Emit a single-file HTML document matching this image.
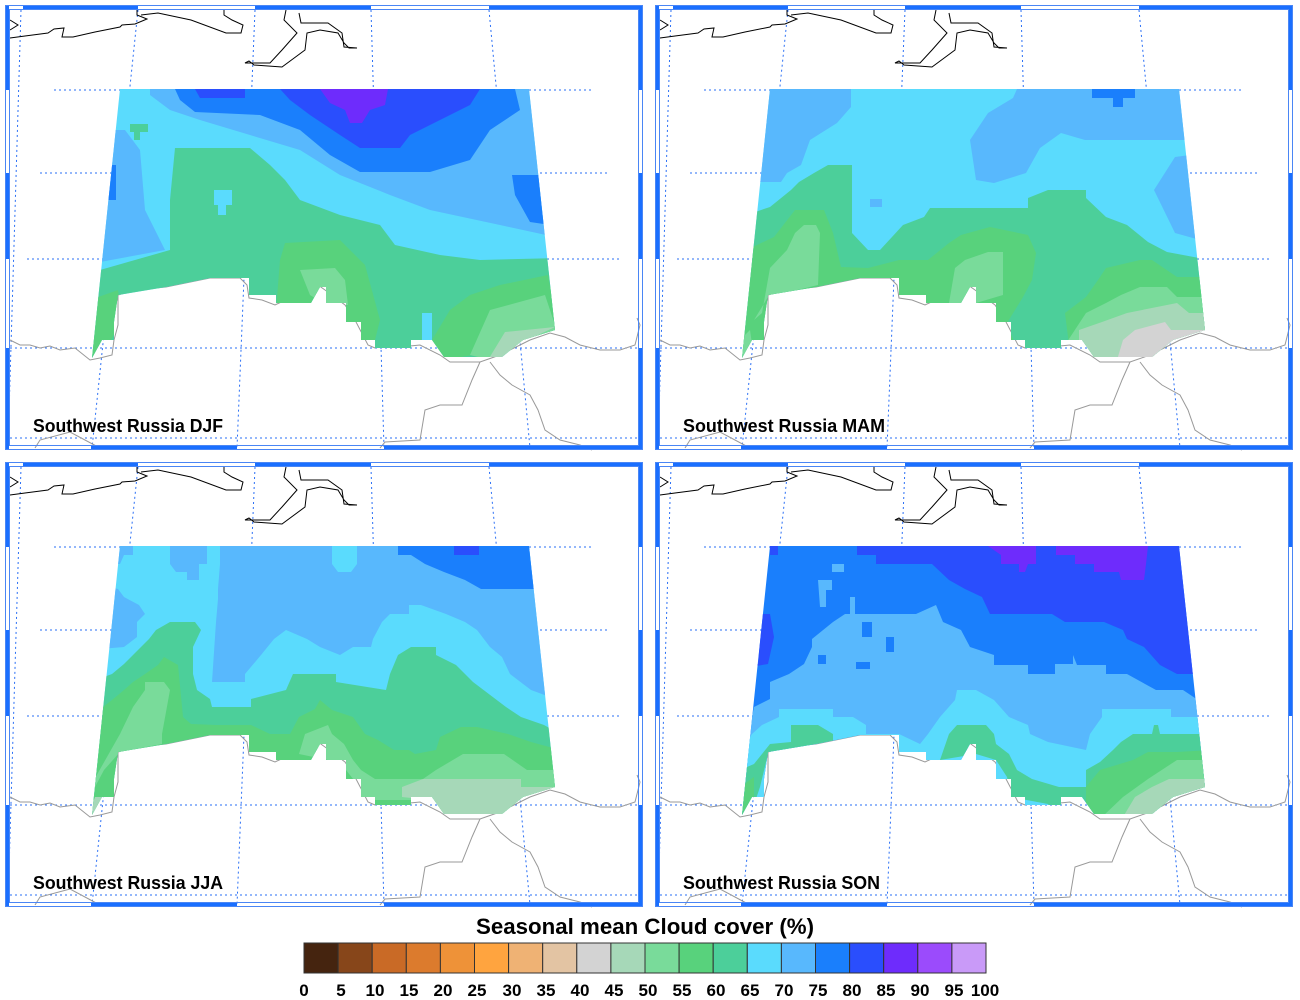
<!DOCTYPE html>
<html><head><meta charset="utf-8"><style>
html,body{margin:0;padding:0;background:#fff;width:1300px;height:1000px;overflow:hidden}
svg{display:block}
text{font-family:"Liberation Sans",Arial,sans-serif;font-weight:bold;fill:#000}
</style></head><body>
<svg width="1300" height="1000" viewBox="0 0 1300 1000" xmlns="http://www.w3.org/2000/svg">
<defs>
<clipPath id="dc" clipPathUnits="userSpaceOnUse">
<polygon points="120,89 529,89 555,330 523,340 502,357 444,357 432,340 411,340 411,348 375,348 375,340 361,340 361,322 346,322 346,303 326,303 326,287 320,287 311,303 276,303 276,295 249,295 249,278 210,278 166,287 118,295 114,322 114,340 102,340 92,358"/>
</clipPath>
<g id="base">
<rect x="5" y="5" width="638" height="445" fill="#fff"/>
<g stroke="#2a6ff5" stroke-width="1" stroke-dasharray="2,3" fill="none">
<line x1="54" y1="90" x2="593" y2="90"/>
<line x1="40" y1="173" x2="608" y2="173"/>
<line x1="27" y1="259" x2="620" y2="259"/>
<line x1="10" y1="348" x2="640" y2="348"/>
<line x1="10" y1="438" x2="640" y2="438"/>
<line x1="21" y1="10" x2="8" y2="447"/>
<line x1="138" y1="10" x2="92" y2="448"/>
<line x1="255" y1="10" x2="237" y2="448"/>
<line x1="371" y1="10" x2="384" y2="448"/>
<line x1="489" y1="10" x2="530" y2="448"/>
</g>
<g fill="none" stroke="#000" stroke-width="1">
<polyline points="10,38 25,36 48,33 54,29 64,28 62,37 73,37 95,32 120,27 122,25 135,24 147,19 137,15 137,10"/>
<polyline points="141,15 158,13 191,20 226,33 241,33 243,25 232,20 224,15 224,10"/>
<polyline points="286,10 284,20 297,33 282,50 270,63 253,63 245,63 249,61 254,65 282,67 305,50 307,33 320,30 338,33 344,43 349,48 357,48 344,47 342,33 328,23 301,23 299,13"/>
<polyline points="10,20 18,25 10,30"/>
</g>
<g fill="none" stroke="#999" stroke-width="1">
<polyline points="10,340 20,345 30,345 40,348 50,346 60,350 75,348 90,360 100,358 112,355 114,340 118,325 118,295 135,290 166,287 210,278 240,278 247,285 249,298 262,300 275,305 290,298 310,292 318,285 325,290 345,305 355,320 368,345 375,348 380,340 400,347 420,345 440,355 450,362 480,362 500,355 520,345 530,340 550,333 565,337 580,345 600,350 620,350 635,345 640,325 637,318"/>
<polyline points="480,362 472,380 462,405 440,405 425,410 420,440 385,442 380,448"/>
<polyline points="490,362 500,375 512,385 530,395 538,410 545,430 560,440 580,445 592,450"/>
<polyline points="35,448 40,440 70,432 100,448"/>
</g>
<g fill="#1a6fff">
<rect x="23" y="5" width="115" height="4"/><rect x="255" y="5" width="116" height="4"/><rect x="489" y="5" width="152" height="4"/>
<rect x="91" y="446" width="146" height="4"/><rect x="384" y="446" width="257" height="4"/>
<rect x="5" y="5" width="4" height="85"/><rect x="5" y="173" width="4" height="86"/><rect x="5" y="348" width="4" height="102"/>
<rect x="639" y="5" width="4" height="85"/><rect x="639" y="173" width="4" height="86"/><rect x="639" y="348" width="4" height="102"/>
</g>
<rect x="5.5" y="5.5" width="637" height="444" fill="none" stroke="#4a86f5" stroke-width="1"/>
<rect x="9.5" y="9.5" width="629" height="436" fill="none" stroke="#4a86f5" stroke-width="1"/>
</g>
</defs>

<!-- DJF -->
<g>
<use href="#base"/>
<g clip-path="url(#dc)">
<rect x="80" y="80" width="490" height="290" fill="#5adbfd"/>
<polygon fill="#58b8fd" points="150,89 529,89 546,235 500,225 430,210 390,195 340,175 300,150 250,135 200,120 170,110 150,95"/>
<polygon fill="#58b8fd" points="100,130 125,130 140,150 145,210 160,240 165,250 100,262"/>
<polygon fill="#1a7ffc" points="175,89 515,89 520,110 490,130 470,160 430,172 360,172 330,155 300,130 260,115 195,112 180,100"/>
<polygon fill="#1a7ffc" points="512,175 545,175 550,225 530,222 515,195"/>
<polygon fill="#1a7ffc" points="100,165 116,165 116,200 100,200"/>
<polygon fill="#2a4efd" points="280,89 480,89 470,105 440,120 410,135 400,148 360,148 340,135 310,115 290,100"/>
<polygon fill="#2a4efd" points="195,89 245,89 245,98 200,98"/>
<polygon fill="#6e2cfc" points="320,89 388,89 385,105 370,110 362,123 350,123 345,110 330,103"/>
<polygon fill="#4ccf9a" points="175,148 250,148 270,165 285,180 300,200 340,215 380,225 395,245 440,255 480,260 560,258 560,360 90,360 100,270 135,260 170,250 170,200"/>
<polygon fill="#4ccf9a" points="130,124 148,124 148,132 140,132 140,140 134,140 134,132 130,132"/>
<polygon fill="#5adbfd" points="214,190 232,190 232,205 226,205 226,215 218,215 218,205 214,205"/>
<polygon fill="#58d27c" points="285,243 340,240 365,265 380,320 375,340 361,345 276,310 280,260"/>
<polygon fill="#58d27c" points="470,295 500,285 548,275 560,340 444,360 432,340 450,310"/>
<polygon fill="#58d27c" points="90,300 118,290 122,320 100,360 90,360"/>
<polygon fill="#79db9a" points="300,270 335,268 345,280 348,305 326,305 310,295"/>
<polygon fill="#79db9a" points="490,310 545,295 560,340 520,345 490,360 470,355"/>
<polygon fill="#a6d8b8" points="505,332 555,327 523,342 500,360 488,360"/>
<polygon fill="#5adbfd" points="422,313 432,313 432,342 422,342"/>
</g>
<text x="33" y="432" font-size="18" textLength="190" lengthAdjust="spacingAndGlyphs">Southwest Russia DJF</text>
</g>

<!-- MAM -->
<g transform="translate(650,0)">
<use href="#base"/>
<g clip-path="url(#dc)">
<rect x="80" y="80" width="490" height="290" fill="#5adbfd"/>
<polygon fill="#58b8fd" points="100,89 201,89 201,107 187,123 160,140 151,165 137,173 131,182 100,182"/>
<polygon fill="#58b8fd" points="367,89 540,89 540,140 490,140 435,140 411,133 390,148 376,173 344,183 326,180 320,140 338,113 363,98"/>
<polygon fill="#58b8fd" points="540,155 525,157 504,190 525,233 550,240"/>
<polygon fill="#58b8fd" points="220,199 232,199 232,207 220,207"/>
<polygon fill="#1a7ffc" points="442,89 485,89 485,98 473,98 473,107 463,107 463,98 442,98"/>
<polygon fill="#4ccf9a" points="90,217 120,207 141,190 149,182 164,173 178,165 202,165 202,233 218,250 230,250 253,225 274,217 280,208 378,208 378,198 398,190 436,190 436,198 456,217 477,225 498,242 517,252 560,260 560,360 90,360"/>
<polygon fill="#58d27c" points="90,253 124,237 145,210 174,210 183,233 191,267 218,268 249,260 278,260 299,243 311,235 340,227 378,235 386,253 382,280 373,297 357,323 365,345 90,360"/>
<polygon fill="#58d27c" points="419,345 415,313 436,297 448,280 456,268 490,260 502,260 527,277 560,277 560,360 419,360"/>
<polygon fill="#79db9a" points="112,313 120,268 137,250 145,233 154,225 166,225 170,233 168,285 118,297 104,320"/>
<polygon fill="#79db9a" points="299,303 305,268 315,260 338,252 353,252 353,295 326,303"/>
<polygon fill="#79db9a" points="415,345 436,313 456,303 471,295 490,287 517,287 527,297 560,297 560,360 440,360"/>
<polygon fill="#79db9a" points="90,340 100,330 104,358 90,360"/>
<polygon fill="#a6d8b8" points="429,360 429,330 452,322 477,313 527,303 539,313 560,313 560,360"/>
<polygon fill="#d3d3d3" points="467,360 473,340 485,330 515,322 521,330 560,330 560,360"/>
</g>
<text x="33" y="432" font-size="18" textLength="202" lengthAdjust="spacingAndGlyphs">Southwest Russia MAM</text>
</g>

<!-- JJA -->
<g transform="translate(0,457)">
<use href="#base"/>
<g clip-path="url(#dc)">
<rect x="80" y="80" width="490" height="290" fill="#5adbfd"/>
<polygon fill="#58b8fd" points="100,128 118,132 124,140 139,148 145,157 137,165 137,180 124,190 100,192"/>
<polygon fill="#58b8fd" points="100,89 133,89 133,98 124,98 120,107 100,107"/>
<polygon fill="#58b8fd" points="170,89 207,89 207,107 199,107 199,123 187,123 187,115 176,115 170,107"/>
<polygon fill="#58b8fd" points="220,89 332,89 332,107 338,115 351,115 357,107 357,89 540,89 540,133 545,190 550,240 531,233 510,217 502,200 490,190 477,173 465,165 446,157 421,148 409,148 409,157 390,157 382,165 373,182 371,190 353,190 340,198 320,190 307,182 286,173 274,182 261,198 245,217 245,225 212,225 216,165 218,142 218,132 220,107"/>
<polygon fill="#1a7ffc" points="398,89 540,89 540,132 481,132 465,123 444,115 425,107 411,98 398,98"/>
<polygon fill="#2a4efd" points="454,89 479,89 479,98 454,98"/>
<polygon fill="#4ccf9a" points="90,225 112,217 124,207 133,198 141,190 149,182 156,173 170,165 195,165 201,173 193,190 193,217 197,233 210,242 212,250 251,250 251,242 286,233 293,217 336,217 336,225 386,233 390,217 398,198 411,190 436,190 436,198 456,208 473,225 506,250 521,260 544,268 560,277 560,360 90,360"/>
<polygon fill="#58d27c" points="90,260 112,243 124,233 133,225 145,217 158,208 164,200 178,208 183,260 191,267 216,268 251,268 270,277 290,277 299,260 315,252 320,243 332,253 353,260 365,277 378,283 394,293 409,293 415,297 436,293 440,280 461,270 477,270 508,277 531,285 560,293 560,360 90,360"/>
<polygon fill="#79db9a" points="120,277 133,250 145,233 145,225 164,225 170,233 162,277 162,287 120,295 104,313 95,330 90,330"/>
<polygon fill="#79db9a" points="299,297 305,277 328,268 332,277 344,287 353,303 361,313 375,322 390,322 423,322 436,313 463,297 504,297 527,313 560,313 560,360 446,360 415,343 390,343 361,343 357,327 346,313 328,303"/>
<polygon fill="#a6d8b8" points="402,340 402,330 423,322 521,322 521,330 560,330 560,360 446,360 430,343"/>
<polygon fill="#a6d8b8" points="88,360 95,340 112,340 114,360"/>
</g>
<text x="33" y="432" font-size="18" textLength="190" lengthAdjust="spacingAndGlyphs">Southwest Russia JJA</text>
</g>

<!-- SON -->
<g transform="translate(650,457)">
<use href="#base"/>
<g clip-path="url(#dc)">
<rect x="80" y="80" width="490" height="290" fill="#1a7ffc"/>
<polygon fill="#2a4efd" points="207,89 540,89 545,217 527,217 510,208 494,190 477,182 473,173 454,165 415,165 402,157 340,157 332,140 315,132 299,123 282,107 226,107 226,98 207,98"/>
<polygon fill="#2a4efd" points="100,207 108,207 112,157 120,157 124,180 118,207 100,210"/>
<polygon fill="#2a4efd" points="120,89 128,89 128,98 120,98"/>
<polygon fill="#6e2cfc" points="338,89 386,89 386,107 378,107 375,115 369,115 369,107 351,107 351,98"/>
<polygon fill="#6e2cfc" points="406,89 498,89 496,107 494,123 471,123 469,115 444,115 444,107 425,107 425,98 406,98"/>
<polygon fill="#58b8fd" points="90,262 102,260 104,250 120,242 120,225 139,217 154,207 162,190 162,182 183,165 195,157 216,157 249,157 266,157 286,148 293,165 311,173 320,190 344,198 344,208 378,208 378,217 405,217 405,207 423,207 423,198 427,208 456,208 456,217 477,217 506,233 533,233 548,243 560,277 560,360 90,360"/>
<polygon fill="#58b8fd" points="182,107 194,107 194,115 182,115"/>
<polygon fill="#58b8fd" points="168,123 182,123 182,133 176,133 176,150 170,150"/>
<polygon fill="#58b8fd" points="200,140 205,140 205,160 200,160"/>
<polygon fill="#58b8fd" points="228,157 248,157 248,173 228,173"/>
<polygon fill="#1a7ffc" points="212,165 222,165 222,180 212,180"/>
<polygon fill="#1a7ffc" points="236,180 244,180 244,195 236,195"/>
<polygon fill="#1a7ffc" points="206,205 220,205 220,212 206,212"/>
<polygon fill="#1a7ffc" points="168,198 176,198 176,207 168,207"/>
<polygon fill="#5adbfd" points="90,282 100,280 102,277 112,268 129,260 129,252 183,252 183,260 203,260 216,268 216,277 249,277 270,287 278,277 290,260 305,243 307,233 326,233 344,243 359,260 378,268 380,277 398,285 436,293 440,277 452,260 452,252 521,252 521,260 560,260 560,360 90,360"/>
<polygon fill="#4ccf9a" points="436,360 436,313 450,305 463,293 471,285 483,277 502,277 504,268 508,268 510,277 560,277 560,360"/>
<polygon fill="#4ccf9a" points="290,303 299,277 307,268 336,268 344,277 346,287 359,297 367,313 382,322 409,330 440,330 440,360 407,360 398,347 361,340 357,320 346,303 326,297"/>
<polygon fill="#4ccf9a" points="90,313 104,307 112,297 120,287 141,285 141,268 168,268 183,277 183,285 166,287 118,297 110,330 100,360 88,360"/>
<polygon fill="#58d27c" points="436,360 436,330 450,313 483,303 498,295 527,295 560,293 560,360"/>
<polygon fill="#58d27c" points="90,330 104,320 104,360 90,360"/>
<polygon fill="#79db9a" points="452,360 473,340 498,322 527,303 560,303 560,360"/>
<polygon fill="#a6d8b8" points="473,360 485,340 502,330 519,322 560,322 560,360"/>
</g>
<text x="33" y="432" font-size="18" textLength="197" lengthAdjust="spacingAndGlyphs">Southwest Russia SON</text>
</g>

<!-- colorbar -->
<text x="645" y="934" font-size="22" text-anchor="middle" textLength="338" lengthAdjust="spacingAndGlyphs">Seasonal mean Cloud cover (%)</text>
<g stroke="#333" stroke-width="1">
<rect x="304.0" y="943" width="34.1" height="30" fill="#45240f"/>
<rect x="338.1" y="943" width="34.1" height="30" fill="#87461a"/>
<rect x="372.2" y="943" width="34.1" height="30" fill="#c96a26"/>
<rect x="406.3" y="943" width="34.1" height="30" fill="#dc7b2d"/>
<rect x="440.4" y="943" width="34.1" height="30" fill="#ee9238"/>
<rect x="474.5" y="943" width="34.1" height="30" fill="#ffa43f"/>
<rect x="508.6" y="943" width="34.1" height="30" fill="#efb274"/>
<rect x="542.7" y="943" width="34.1" height="30" fill="#e3c4a3"/>
<rect x="576.8" y="943" width="34.1" height="30" fill="#d3d3d3"/>
<rect x="610.9" y="943" width="34.1" height="30" fill="#a6d8b8"/>
<rect x="645.0" y="943" width="34.1" height="30" fill="#79db9a"/>
<rect x="679.1" y="943" width="34.1" height="30" fill="#58d27c"/>
<rect x="713.2" y="943" width="34.1" height="30" fill="#4ccf9a"/>
<rect x="747.3" y="943" width="34.1" height="30" fill="#5adbfd"/>
<rect x="781.4" y="943" width="34.1" height="30" fill="#58b8fd"/>
<rect x="815.5" y="943" width="34.1" height="30" fill="#1a7ffc"/>
<rect x="849.6" y="943" width="34.1" height="30" fill="#2a4efd"/>
<rect x="883.7" y="943" width="34.1" height="30" fill="#6e2cfc"/>
<rect x="917.8" y="943" width="34.1" height="30" fill="#9b4bfc"/>
<rect x="951.9" y="943" width="34.1" height="30" fill="#c99af8"/>
</g>
<g font-size="17" text-anchor="middle">
<text x="304" y="996">0</text><text x="341" y="996">5</text><text x="375" y="996">10</text><text x="409" y="996">15</text><text x="443" y="996">20</text><text x="477" y="996">25</text><text x="512" y="996">30</text><text x="546" y="996">35</text><text x="580" y="996">40</text><text x="614" y="996">45</text><text x="648" y="996">50</text><text x="682" y="996">55</text><text x="716" y="996">60</text><text x="750" y="996">65</text><text x="784" y="996">70</text><text x="818" y="996">75</text><text x="852" y="996">80</text><text x="886" y="996">85</text><text x="920" y="996">90</text><text x="954" y="996">95</text><text x="985" y="996">100</text>
</g>
</svg>
</body></html>
